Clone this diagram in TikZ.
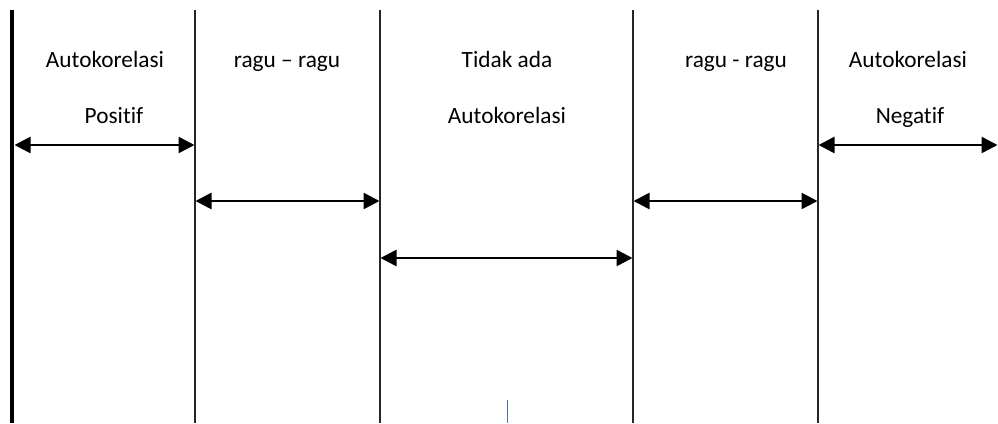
\documentclass[tikz,border=0pt]{standalone}
\usepackage{fontspec}
\setmainfont{Carlito}[Ligatures=NoCommon]
\usetikzlibrary{arrows.meta}
\definecolor{goresbiru}{RGB}{75,115,185}

\begin{document}
\begin{tikzpicture}[x=1pt,y=-1pt,
    batas/.style={line width=1.2pt,black!85},
    panah/.style={line width=2.6pt,{Triangle[length=16pt,width=16pt]}-{Triangle[length=16pt,width=16pt]},shorten <=0.5pt,shorten >=0.5pt},
    label/.style={anchor=base,font=\fontsize{23.3}{27}\selectfont,inner sep=0pt}]
    \useasboundingbox (0,0) rectangle (998,423);

    % Batas daerah (dL, dU, 4-dU, 4-dL)
    \coordinate (g0t) at (12,10);  \coordinate (g0b) at (12,423);
    \coordinate (g1t) at (195,10); \coordinate (g1b) at (195,423);
    \coordinate (g2t) at (380,10); \coordinate (g2b) at (380,423);
    \coordinate (g3t) at (633,10); \coordinate (g3b) at (633,423);
    \coordinate (g4t) at (818,10); \coordinate (g4b) at (818,423);
    \coordinate (ujung) at (998,145);

    \draw[line width=4pt] (g0t) -- (g0b);
    \draw[batas] (g1t) -- (g1b);
    \draw[batas] (g2t) -- (g2b);
    \draw[batas] (g3t) -- (g3b);
    \draw[batas] (g4t) -- (g4b);

    % Label daerah
    \node[label] (pos1) at (105,67) {Autokorelasi};
    \node[label] (pos2) at (114,123) {Positif};
    \node[label] (ragu1) at (287,67) {ragu – ragu};
    \node[label] (tidak1) at (507,67) {Tidak ada};
    \node[label] (tidak2) at (507,123) {Autokorelasi};
    \node[label] (ragu2) at (736,67) {ragu - ragu};
    \node[label] (neg1) at (908,67) {Autokorelasi};
    \node[label] (neg2) at (910,123) {Negatif};

    % Panah rentang
    \coordinate (a0) at (g0t |- 0,145); \coordinate (a1) at (g1t |- 0,145);
    \coordinate (b1) at (g1t |- 0,201); \coordinate (b2) at (g2t |- 0,201);
    \coordinate (c2) at (g2t |- 0,258); \coordinate (c3) at (g3t |- 0,258);
    \coordinate (d3) at (g3t |- 0,201); \coordinate (d4) at (g4t |- 0,201);
    \coordinate (e4) at (g4t |- 0,145);

    \draw[panah] ([xshift=2pt]a0) -- (a1);
    \draw[panah] (b1) -- (b2);
    \draw[panah] (c2) -- (c3);
    \draw[panah] (d3) -- (d4);
    \draw[panah] (e4) -- (ujung);

    % Goresan kecil
    \draw[line width=1pt,goresbiru] (507,400) -- (507,423);
\end{tikzpicture}
\end{document}
